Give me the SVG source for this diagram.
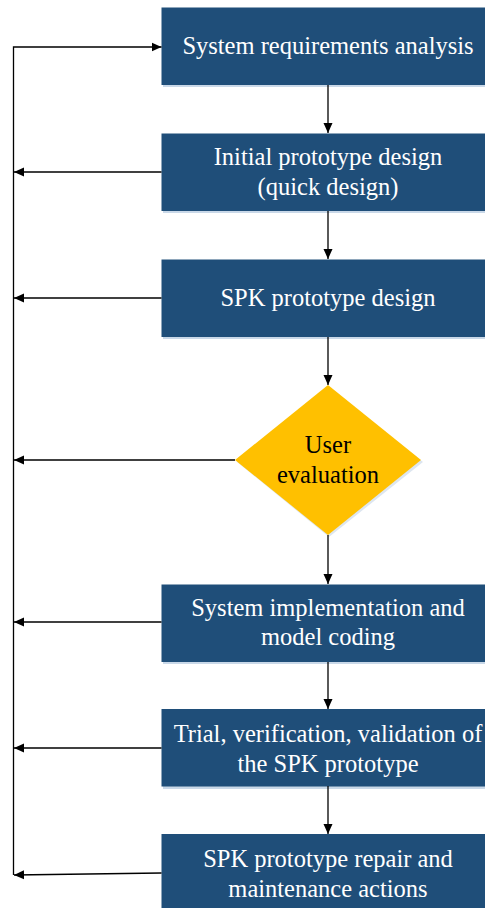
<svg xmlns="http://www.w3.org/2000/svg" width="485" height="908" viewBox="0 0 485 908">
<defs>
<style>
.box{fill:#1F4E79;}
.sh{fill:#C9D8E8;}
.t{font-family:'Liberation Serif','Times New Roman','DejaVu Serif',serif;font-size:24.5px;fill:#FFFFFF;text-anchor:middle;}
.td{font-family:'Liberation Serif','Times New Roman','DejaVu Serif',serif;font-size:24.5px;fill:#000000;text-anchor:middle;}
.ln{stroke:#000;stroke-width:1.3;fill:none;}
</style>
<marker id="ah" viewBox="0 0 10 12" refX="10" refY="6" markerWidth="10" markerHeight="12" markerUnits="userSpaceOnUse" orient="auto">
<path d="M0,1.5 L10,6 L0,10.5 Z" fill="#000"/>
</marker>
</defs>
<rect width="485" height="908" fill="#FFFFFF"/>
<g id="n1">
<rect class="sh" x="163" y="9" width="333" height="78"/>
<rect class="box" x="161.5" y="7.5" width="333" height="77.5"/>
<text class="t" x="328" y="54">System requirements analysis</text>
</g>
<g id="n2">
<rect class="sh" x="163" y="135" width="333" height="78"/>
<rect class="box" x="161.5" y="133.5" width="333" height="77.5"/>
<text class="t" x="328" y="165">Initial prototype design</text>
<text class="t" x="328" y="195">(quick design)</text>
</g>
<g id="n3">
<rect class="sh" x="163" y="261" width="333" height="78"/>
<rect class="box" x="161.5" y="259.5" width="333" height="77.5"/>
<text class="t" x="328" y="306">SPK prototype design</text>
</g>
<g id="n4">
<polygon points="329,387 423,462 329,537 237,462" fill="#DDE6F0"/>
<polygon points="328,385 421,460 328,535 235,460" fill="#FFC000"/>
<text class="td" x="328" y="453">User</text>
<text class="td" x="328" y="483">evaluation</text>
</g>
<g id="n5">
<rect class="sh" x="163" y="586" width="333" height="78"/>
<rect class="box" x="161.5" y="584.5" width="333" height="77.5"/>
<text class="t" x="328" y="616">System implementation and</text>
<text class="t" x="328" y="645">model coding</text>
</g>
<g id="n6">
<rect class="sh" x="163" y="711" width="333" height="78"/>
<rect class="box" x="161.5" y="709" width="333" height="77.5"/>
<text class="t" x="328" y="742">Trial, verification, validation of</text>
<text class="t" x="328" y="772">the SPK prototype</text>
</g>
<g id="n7">
<rect class="sh" x="163" y="836" width="333" height="78"/>
<rect class="box" x="161.5" y="834" width="333" height="78"/>
<text class="t" x="328" y="867">SPK prototype repair and</text>
<text class="t" x="328" y="897">maintenance actions</text>
</g>
<g id="connectors">
<line class="ln" x1="328" y1="85" x2="328" y2="133" marker-end="url(#ah)"/>
<line class="ln" x1="328" y1="211" x2="328" y2="259" marker-end="url(#ah)"/>
<line class="ln" x1="328" y1="337" x2="328" y2="385" marker-end="url(#ah)"/>
<line class="ln" x1="328" y1="535" x2="328" y2="584" marker-end="url(#ah)"/>
<line class="ln" x1="328" y1="662" x2="328" y2="709" marker-end="url(#ah)"/>
<line class="ln" x1="328" y1="786" x2="328" y2="834" marker-end="url(#ah)"/>
<polyline class="ln" points="13.5,875 13.5,47 161.5,47" marker-end="url(#ah)"/>
<line class="ln" x1="161.5" y1="172" x2="14" y2="172" marker-end="url(#ah)"/>
<line class="ln" x1="161.5" y1="298" x2="14" y2="298" marker-end="url(#ah)"/>
<line class="ln" x1="235" y1="460" x2="14" y2="460" marker-end="url(#ah)"/>
<line class="ln" x1="161.5" y1="622" x2="14" y2="622" marker-end="url(#ah)"/>
<line class="ln" x1="161.5" y1="748" x2="14" y2="748" marker-end="url(#ah)"/>
<line class="ln" x1="161.5" y1="873" x2="14" y2="875" marker-end="url(#ah)"/>
</g>
</svg>
